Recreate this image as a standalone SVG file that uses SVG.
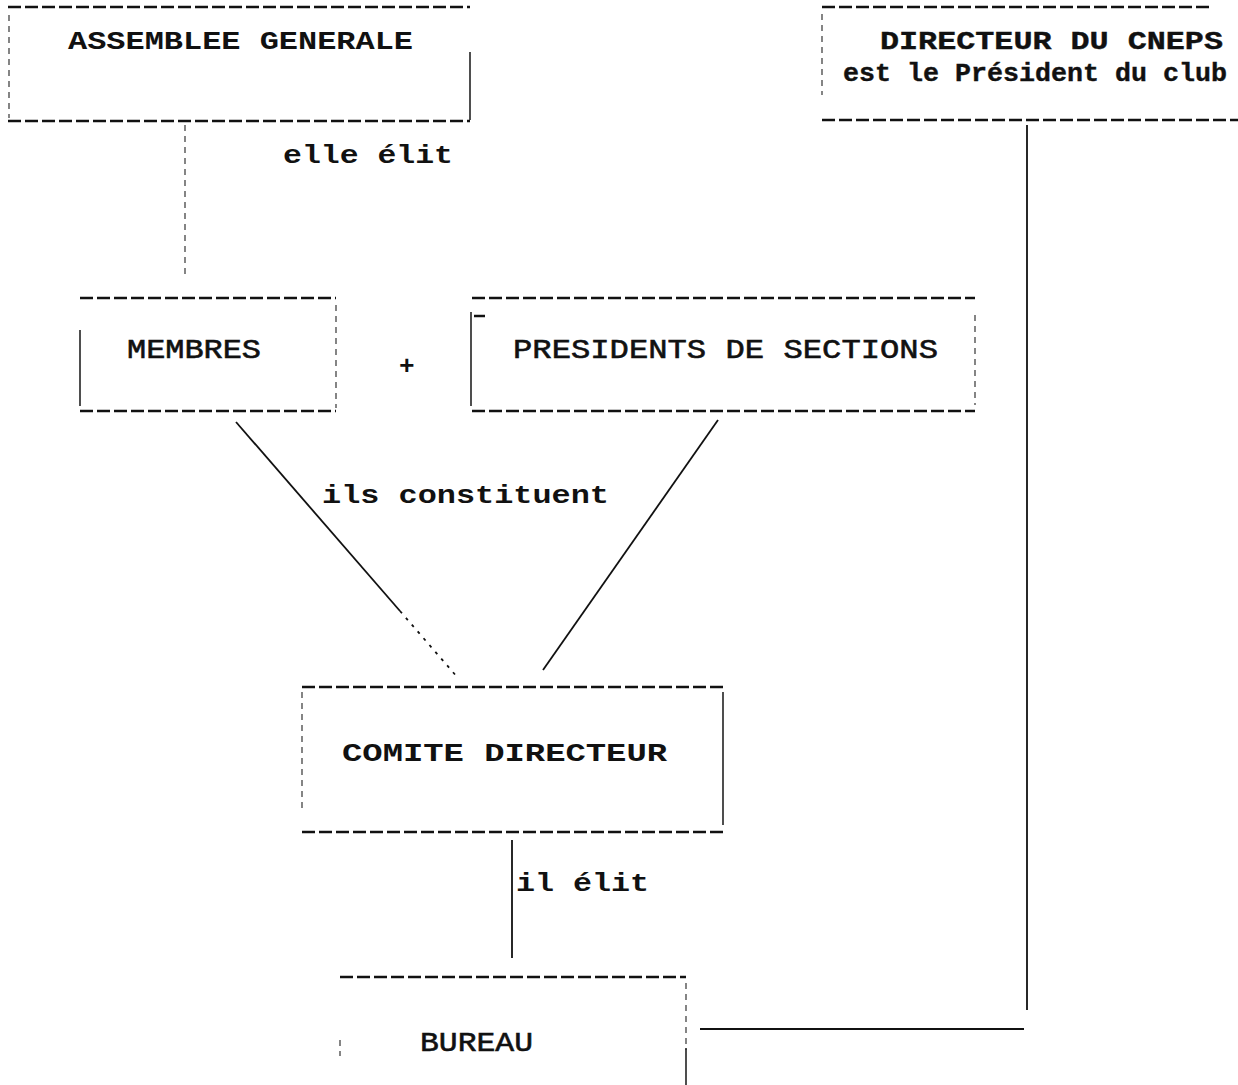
<svg xmlns="http://www.w3.org/2000/svg" width="1238" height="1085" viewBox="0 0 1238 1085">
<style>
.h{stroke:#111;stroke-width:2.6;stroke-dasharray:13 4;fill:none}
.v{stroke:#222;stroke-width:1.6;fill:none}
.vf{stroke:#444;stroke-width:1.3;stroke-dasharray:6 5;fill:none}
.t{font-family:"Liberation Mono","Courier New",monospace;font-weight:bold;font-size:26px;fill:#111}
.n{font-family:"Liberation Mono","Courier New",monospace;font-weight:normal;font-size:28px;fill:#111;stroke:#111;stroke-width:0.6}
.c{stroke:#111;stroke-width:1.8;fill:none}
</style>
<rect width="1238" height="1085" fill="#fff"/>
<g id="assemblee">
<line class="h" x1="8" y1="7" x2="470" y2="7"/>
<line class="h" x1="8" y1="121" x2="470" y2="121"/>
<line class="vf" x1="9" y1="15" x2="9" y2="118"/>
<line class="v" x1="470" y1="52" x2="470" y2="120"/>
<text class="t" x="68" y="49" textLength="345" lengthAdjust="spacingAndGlyphs">ASSEMBLEE GENERALE</text>
</g>
<g id="directeur">
<line class="h" x1="822" y1="7" x2="1212" y2="7"/>
<line class="h" x1="822" y1="120" x2="1238" y2="120"/>
<line class="vf" x1="822" y1="14" x2="822" y2="95"/>
<text class="t" x="880" y="49" textLength="343" lengthAdjust="spacingAndGlyphs" font-weight="normal" stroke="#111" stroke-width="0.4">DIRECTEUR DU CNEPS</text>
<text class="t" x="843" y="81" textLength="384" lengthAdjust="spacingAndGlyphs" font-weight="normal" stroke="#111" stroke-width="0.4">est le Président du club</text>
</g>
<g id="membres">
<line class="h" x1="80" y1="298" x2="336" y2="298"/>
<line class="h" x1="80" y1="411" x2="336" y2="411"/>
<line class="v" x1="80" y1="330" x2="80" y2="406"/>
<line class="vf" x1="336" y1="305" x2="336" y2="408"/>
<text class="n" x="127" y="358" textLength="134" lengthAdjust="spacingAndGlyphs">MEMBRES</text>
</g>
<text class="t" x="399" y="374" font-size="20">+</text>
<g id="presidents">
<line class="h" x1="472" y1="298" x2="975" y2="298"/>
<line class="h" x1="472" y1="411" x2="975" y2="411"/>
<line class="v" x1="471" y1="312" x2="471" y2="406"/>
<line class="vf" x1="975" y1="315" x2="975" y2="405"/>
<line stroke="#111" stroke-width="2.5" x1="474" y1="316" x2="485" y2="316"/>
<text class="n" x="513" y="358" textLength="425" lengthAdjust="spacingAndGlyphs">PRESIDENTS DE SECTIONS</text>
</g>
<g id="comite">
<line class="h" x1="302" y1="687" x2="723" y2="687"/>
<line class="h" x1="302" y1="832" x2="723" y2="832"/>
<line class="vf" x1="302" y1="692" x2="302" y2="808"/>
<line class="v" x1="723" y1="692" x2="723" y2="825"/>
<text class="t" x="342" y="761" textLength="325" lengthAdjust="spacingAndGlyphs">COMITE  DIRECTEUR</text>
</g>
<g id="bureau">
<line class="h" x1="340" y1="977" x2="686" y2="977"/>
<line class="vf" x1="686" y1="983" x2="686" y2="1050"/>
<line class="v" x1="686" y1="1048" x2="686" y2="1085"/>
<line class="vf" x1="340" y1="1040" x2="340" y2="1056"/>
<text class="n" x="420" y="1051" textLength="113" lengthAdjust="spacingAndGlyphs">BUREAU</text>
</g>
<g id="connectors">
<line class="vf" x1="185" y1="125" x2="185" y2="275"/>
<line class="c" x1="236" y1="422" x2="400" y2="611"/>
<line class="c" x1="400" y1="611" x2="458" y2="678" stroke-width="1.2" stroke-dasharray="3 6"/>
<line class="c" x1="718" y1="420" x2="543" y2="670"/>
<line class="c" x1="512" y1="840" x2="512" y2="958"/>
<line class="c" x1="1027" y1="125" x2="1027" y2="1010"/>
<line class="c" x1="700" y1="1029" x2="1024" y2="1029" stroke-width="2.2"/>
</g>
<g id="labels">
<text class="t" x="283" y="163" textLength="170" lengthAdjust="spacingAndGlyphs">elle élit</text>
<text class="t" x="322" y="503" textLength="287" lengthAdjust="spacingAndGlyphs">ils constituent</text>
<text class="t" x="516" y="891" textLength="133" lengthAdjust="spacingAndGlyphs">il élit</text>
</g>
</svg>
